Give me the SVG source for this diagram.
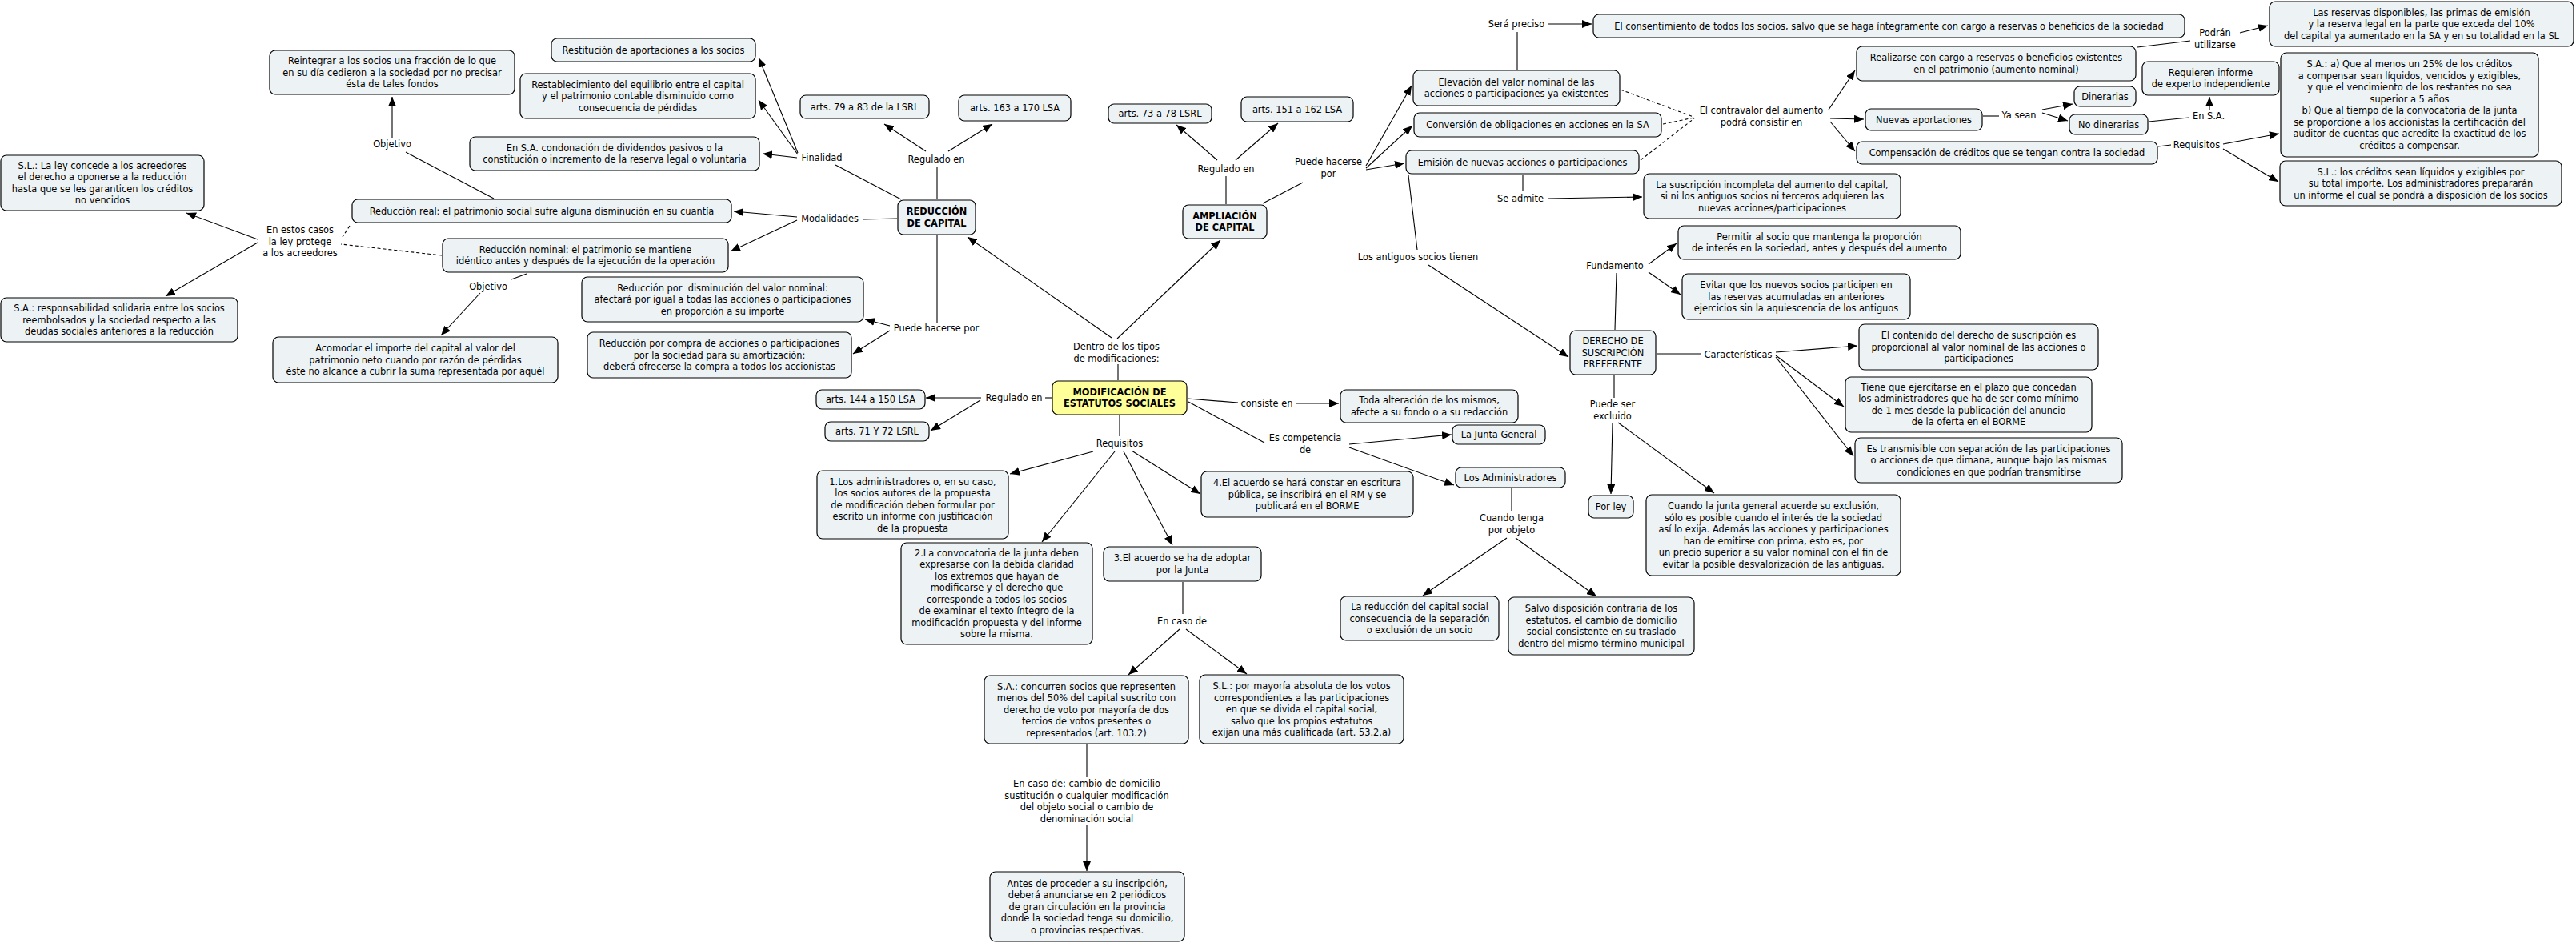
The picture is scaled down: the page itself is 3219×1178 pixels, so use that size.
<svg xmlns="http://www.w3.org/2000/svg" width="3219" height="1178" viewBox="0 0 3219 1178">
<style>
.b{fill:#edf3f5;stroke:#000;stroke-width:1.2}
.y{fill:#ffff99}
.t{font-family:"DejaVu Sans",Verdana,sans-serif;font-size:11.4px;text-anchor:middle;fill:#000}
.bo{font-weight:bold}
#conn line{stroke:#000;stroke-width:1.1;fill:none}
#conn .a{marker-end:url(#ah)}
#conn .d{stroke-dasharray:4 3}
</style>
<defs>
<marker id="ah" markerUnits="userSpaceOnUse" markerWidth="12" markerHeight="10" viewBox="0 0 12 10" refX="12" refY="5" orient="auto"><path d="M0,0 L12,5 L0,10 z" fill="#000"/></marker>
</defs>
<rect width="3219" height="1178" fill="#fff"/>
<g id="conn">
<line class="a" x1="997" y1="191" x2="948" y2="72"/>
<line class="a" x1="997" y1="193" x2="948" y2="125"/>
<line class="a" x1="996" y1="197" x2="953" y2="192"/>
<line x1="1126" y1="249" x2="1044" y2="206"/>
<line class="a" x1="1157" y1="189" x2="1105" y2="155"/>
<line class="a" x1="1185" y1="189" x2="1240" y2="155"/>
<line x1="1171" y1="249" x2="1171" y2="209"/>
<line x1="1121" y1="273" x2="1078" y2="274"/>
<line class="a" x1="996" y1="271" x2="917" y2="264"/>
<line class="a" x1="996" y1="275" x2="913" y2="314"/>
<line x1="617" y1="248" x2="507" y2="190"/>
<line class="a" x1="490" y1="172" x2="490" y2="121"/>
<line class="d" x1="437" y1="282" x2="428" y2="296"/>
<line class="d" x1="552" y1="319" x2="426" y2="305"/>
<line class="a" x1="322" y1="299" x2="233" y2="266"/>
<line class="a" x1="322" y1="303" x2="207" y2="370"/>
<line x1="658" y1="342" x2="639" y2="349"/>
<line class="a" x1="600" y1="366" x2="551" y2="419"/>
<line x1="1171" y1="294" x2="1171" y2="403"/>
<line class="a" x1="1112" y1="407" x2="1081" y2="399"/>
<line class="a" x1="1112" y1="413" x2="1066" y2="442"/>
<line class="a" x1="1389" y1="422" x2="1209" y2="296"/>
<line class="a" x1="1396" y1="423" x2="1525" y2="300"/>
<line x1="1397" y1="455" x2="1397" y2="475"/>
<line x1="1314" y1="497" x2="1306" y2="497"/>
<line class="a" x1="1226" y1="497" x2="1157" y2="497"/>
<line class="a" x1="1225" y1="500" x2="1163" y2="538"/>
<line x1="1399" y1="519" x2="1399" y2="545"/>
<line class="a" x1="1366" y1="564" x2="1262" y2="592"/>
<line class="a" x1="1393" y1="564" x2="1302" y2="677"/>
<line class="a" x1="1404" y1="564" x2="1465" y2="681"/>
<line class="a" x1="1414" y1="563" x2="1500" y2="617"/>
<line x1="1478" y1="727" x2="1478" y2="767"/>
<line class="a" x1="1474" y1="786" x2="1410" y2="843"/>
<line class="a" x1="1482" y1="786" x2="1558" y2="842"/>
<line x1="1358" y1="930" x2="1358" y2="971"/>
<line class="a" x1="1358" y1="1031" x2="1358" y2="1088"/>
<line x1="1484" y1="498" x2="1547" y2="503"/>
<line class="a" x1="1620" y1="504" x2="1673" y2="504"/>
<line x1="1485" y1="502" x2="1580" y2="553"/>
<line class="a" x1="1686" y1="555" x2="1814" y2="543"/>
<line class="a" x1="1686" y1="559" x2="1817" y2="606"/>
<line x1="1889" y1="610" x2="1889" y2="638"/>
<line class="a" x1="1883" y1="672" x2="1778" y2="744"/>
<line class="a" x1="1894" y1="672" x2="1995" y2="745"/>
<line x1="1532" y1="255" x2="1532" y2="220"/>
<line class="a" x1="1521" y1="200" x2="1470" y2="156"/>
<line class="a" x1="1544" y1="200" x2="1597" y2="154"/>
<line x1="1578" y1="254" x2="1628" y2="228"/>
<line class="a" x1="1707" y1="207" x2="1764" y2="107"/>
<line class="a" x1="1707" y1="210" x2="1765" y2="157"/>
<line class="a" x1="1707" y1="212" x2="1755" y2="204"/>
<line x1="1896" y1="87" x2="1896" y2="40"/>
<line class="a" x1="1935" y1="30" x2="1989" y2="30"/>
<line class="d" x1="2025" y1="112" x2="2116" y2="146"/>
<line class="d" x1="2078" y1="155" x2="2117" y2="147"/>
<line class="d" x1="2050" y1="200" x2="2117" y2="148"/>
<line class="a" x1="2285" y1="137" x2="2318" y2="88"/>
<line class="a" x1="2287" y1="148" x2="2329" y2="149"/>
<line class="a" x1="2287" y1="152" x2="2318" y2="189"/>
<line x1="2478" y1="145" x2="2498" y2="145"/>
<line class="a" x1="2552" y1="137" x2="2590" y2="130"/>
<line class="a" x1="2552" y1="141" x2="2584" y2="151"/>
<line x1="2685" y1="152" x2="2735" y2="147"/>
<line class="a" x1="2761" y1="138" x2="2761" y2="121"/>
<line x1="2671" y1="59" x2="2737" y2="51"/>
<line class="a" x1="2799" y1="41" x2="2834" y2="32"/>
<line x1="2697" y1="183" x2="2713" y2="181"/>
<line class="a" x1="2778" y1="180" x2="2848" y2="167"/>
<line class="a" x1="2778" y1="186" x2="2847" y2="227"/>
<line x1="1903" y1="219" x2="1903" y2="239"/>
<line class="a" x1="1935" y1="248" x2="2052" y2="246"/>
<line x1="1760" y1="219" x2="1771" y2="312"/>
<line class="a" x1="1785" y1="331" x2="1960" y2="446"/>
<line x1="2018" y1="412" x2="2020" y2="341"/>
<line class="a" x1="2060" y1="330" x2="2095" y2="304"/>
<line class="a" x1="2060" y1="340" x2="2100" y2="368"/>
<line x1="2070" y1="442" x2="2126" y2="442"/>
<line class="a" x1="2219" y1="440" x2="2321" y2="432"/>
<line class="a" x1="2219" y1="444" x2="2304" y2="508"/>
<line class="a" x1="2219" y1="446" x2="2316" y2="570"/>
<line x1="2017" y1="469" x2="2017" y2="497"/>
<line class="a" x1="2015" y1="528" x2="2013" y2="617"/>
<line class="a" x1="2022" y1="528" x2="2142" y2="616"/>
</g>
<g id="labels" class="t">
<text x="490" y="184">Objetivo</text>
<text x="1027" y="201">Finalidad</text>
<text x="1170" y="203">Regulado en</text>
<text x="1037" y="277">Modalidades</text>
<text x="375" y="291"><tspan x="375">En estos casos</tspan><tspan x="375" dy="14.5">la ley protege</tspan><tspan x="375" dy="14.5">a los acreedores</tspan></text>
<text x="610" y="362">Objetivo</text>
<text x="1170" y="414">Puede hacerse por</text>
<text x="1395" y="437"><tspan x="1395">Dentro de los tipos</tspan><tspan x="1395" dy="14.5">de modificaciones:</tspan></text>
<text x="1267" y="501">Regulado en</text>
<text x="1399" y="558">Requisitos</text>
<text x="1477" y="780">En caso de</text>
<text x="1358" y="983"><tspan x="1358">En caso de: cambio de domicilio</tspan><tspan x="1358" dy="14.5">sustitución o cualquier modificación</tspan><tspan x="1358" dy="14.5">del objeto social o cambio de</tspan><tspan x="1358" dy="14.5">denominación social</tspan></text>
<text x="1583" y="508">consiste en</text>
<text x="1631" y="551"><tspan x="1631">Es competencia</tspan><tspan x="1631" dy="15">de</tspan></text>
<text x="1889" y="651"><tspan x="1889">Cuando tenga</tspan><tspan x="1889" dy="14.5">por objeto</tspan></text>
<text x="1532" y="215">Regulado en</text>
<text x="1660" y="206"><tspan x="1660">Puede hacerse</tspan><tspan x="1660" dy="15">por</tspan></text>
<text x="1895" y="34">Será preciso</text>
<text x="2201" y="142"><tspan x="2201">El contravalor del aumento</tspan><tspan x="2201" dy="15">podrá consistir en</tspan></text>
<text x="2768" y="45"><tspan x="2768">Podrán</tspan><tspan x="2768" dy="14.5">utilizarse</tspan></text>
<text x="2523" y="148">Ya sean</text>
<text x="2760" y="149">En S.A.</text>
<text x="2745" y="185">Requisitos</text>
<text x="1900" y="252">Se admite</text>
<text x="1772" y="325">Los antiguos socios tienen</text>
<text x="2018" y="336">Fundamento</text>
<text x="2172" y="447">Características</text>
<text x="2015" y="509"><tspan x="2015">Puede ser</tspan><tspan x="2015" dy="14.5">excluido</tspan></text>
</g>
<g id="n1"><rect class="b" x="337" y="63" width="306" height="55" rx="7"/><text class="t" y="80"><tspan x="490">Reintegrar a los socios una fracción de lo que</tspan><tspan x="490" dy="14.5">en su día cedieron a la sociedad por no precisar</tspan><tspan x="490" dy="14.5">ésta de tales fondos</tspan></text></g>
<g id="n2"><rect class="b" x="689" y="48" width="255" height="29" rx="7"/><text class="t" x="816.5" y="66.5">Restitución de aportaciones a los socios</text></g>
<g id="n3"><rect class="b" x="650" y="92" width="294" height="56" rx="7"/><text class="t" y="109.5"><tspan x="797">Restablecimiento del equilibrio entre el capital</tspan><tspan x="797" dy="14.5">y el patrimonio contable disminuido como</tspan><tspan x="797" dy="14.5">consecuencia de pérdidas</tspan></text></g>
<g id="n4"><rect class="b" x="1000" y="119" width="161" height="29" rx="7"/><text class="t" x="1080.5" y="137.5">arts. 79 a 83 de la LSRL</text></g>
<g id="n5"><rect class="b" x="1198" y="119" width="140" height="32" rx="7"/><text class="t" x="1268" y="139">arts. 163 a 170 LSA</text></g>
<g id="n6"><rect class="b" x="587" y="171" width="362" height="42" rx="7"/><text class="t" y="188.75"><tspan x="768">En S.A. condonación de dividendos pasivos o la</tspan><tspan x="768" dy="14.5">constitución o incremento de la reserva legal o voluntaria</tspan></text></g>
<g id="n7"><rect class="b" x="1" y="194" width="254" height="69" rx="7"/><text class="t" y="210.75"><tspan x="128">S.L.: La ley concede a los acreedores</tspan><tspan x="128" dy="14.5">el derecho a oponerse a la reducción</tspan><tspan x="128" dy="14.5">hasta que se les garanticen los créditos</tspan><tspan x="128" dy="14.5">no vencidos</tspan></text></g>
<g id="n8"><rect class="b" x="440" y="249" width="474" height="29" rx="7"/><text class="t" x="677" y="267.5">Reducción real: el patrimonio social sufre alguna disminución en su cuantía</text></g>
<g id="n9"><rect class="b" x="1122" y="250" width="97" height="43" rx="7"/><text class="t bo" y="268.25"><tspan x="1170.5">REDUCCIÓN</tspan><tspan x="1170.5" dy="14.5">DE CAPITAL</tspan></text></g>
<g id="n10"><rect class="b" x="553" y="298" width="357" height="42" rx="7"/><text class="t" y="315.75"><tspan x="731.5">Reducción nominal: el patrimonio se mantiene</tspan><tspan x="731.5" dy="14.5">idéntico antes y después de la ejecución de la operación</tspan></text></g>
<g id="n11"><rect class="b" x="727" y="346" width="352" height="56" rx="7"/><text class="t" y="363.5"><tspan x="903">Reducción por&#160; disminución del valor nominal:</tspan><tspan x="903" dy="14.5">afectará por igual a todas las acciones o participaciones</tspan><tspan x="903" dy="14.5">en proporción a su importe</tspan></text></g>
<g id="n12"><rect class="b" x="734" y="415" width="330" height="57" rx="7"/><text class="t" y="433"><tspan x="899">Reducción por compra de acciones o participaciones</tspan><tspan x="899" dy="14.5">por la sociedad para su amortización:</tspan><tspan x="899" dy="14.5">deberá ofrecerse la compra a todos los accionistas</tspan></text></g>
<g id="n13"><rect class="b" x="1" y="372" width="296" height="55" rx="7"/><text class="t" y="389"><tspan x="149">S.A.: responsabilidad solidaria entre los socios</tspan><tspan x="149" dy="14.5">reembolsados y la sociedad respecto a las</tspan><tspan x="149" dy="14.5">deudas sociales anteriores a la reducción</tspan></text></g>
<g id="n14"><rect class="b" x="341" y="421" width="356" height="57" rx="7"/><text class="t" y="439"><tspan x="519">Acomodar el importe del capital al valor del</tspan><tspan x="519" dy="14.5">patrimonio neto cuando por razón de pérdidas</tspan><tspan x="519" dy="14.5">éste no alcance a cubrir la suma representada por aquél</tspan></text></g>
<g id="n15"><rect class="b y" x="1315" y="476" width="168" height="42" rx="7"/><text class="t bo" y="493.75"><tspan x="1399">MODIFICACIÓN DE</tspan><tspan x="1399" dy="14.5">ESTATUTOS SOCIALES</tspan></text></g>
<g id="n16"><rect class="b" x="1020" y="487" width="136" height="24" rx="7"/><text class="t" x="1088" y="503">arts. 144 a 150 LSA</text></g>
<g id="n17"><rect class="b" x="1031" y="527" width="130" height="24" rx="7"/><text class="t" x="1096" y="543">arts. 71 Y 72 LSRL</text></g>
<g id="n18"><rect class="b" x="1021" y="588" width="239" height="85" rx="7"/><text class="t" y="605.5"><tspan x="1140.5">1.Los administradores o, en su caso,</tspan><tspan x="1140.5" dy="14.5">los socios autores de la propuesta</tspan><tspan x="1140.5" dy="14.5">de modificación deben formular por</tspan><tspan x="1140.5" dy="14.5">escrito un informe con justificación</tspan><tspan x="1140.5" dy="14.5">de la propuesta</tspan></text></g>
<g id="n19"><rect class="b" x="1126" y="678" width="239" height="127" rx="7"/><text class="t" y="694.75"><tspan x="1245.5">2.La convocatoria de la junta deben</tspan><tspan x="1245.5" dy="14.5">expresarse con la debida claridad</tspan><tspan x="1245.5" dy="14.5">los extremos que hayan de</tspan><tspan x="1245.5" dy="14.5">modificarse y el derecho que</tspan><tspan x="1245.5" dy="14.5">corresponde a todos los socios</tspan><tspan x="1245.5" dy="14.5">de examinar el texto íntegro de la</tspan><tspan x="1245.5" dy="14.5">modificación propuesta y del informe</tspan><tspan x="1245.5" dy="14.5">sobre la misma.</tspan></text></g>
<g id="n20"><rect class="b" x="1379" y="683" width="197" height="43" rx="7"/><text class="t" y="701.25"><tspan x="1477.5">3.El acuerdo se ha de adoptar</tspan><tspan x="1477.5" dy="14.5">por la Junta</tspan></text></g>
<g id="n21"><rect class="b" x="1230" y="844" width="255" height="85" rx="7"/><text class="t" y="861.5"><tspan x="1357.5">S.A.: concurren socios que representen</tspan><tspan x="1357.5" dy="14.5">menos del 50% del capital suscrito con</tspan><tspan x="1357.5" dy="14.5">derecho de voto por mayoría de dos</tspan><tspan x="1357.5" dy="14.5">tercios de votos presentes o</tspan><tspan x="1357.5" dy="14.5">representados (art. 103.2)</tspan></text></g>
<g id="n22"><rect class="b" x="1499" y="843" width="255" height="86" rx="7"/><text class="t" y="861"><tspan x="1626.5">S.L.: por mayoría absoluta de los votos</tspan><tspan x="1626.5" dy="14.5">correspondientes a las participaciones</tspan><tspan x="1626.5" dy="14.5">en que se divida el capital social,</tspan><tspan x="1626.5" dy="14.5">salvo que los propios estatutos</tspan><tspan x="1626.5" dy="14.5">exijan una más cualificada (art. 53.2.a)</tspan></text></g>
<g id="n23"><rect class="b" x="1237" y="1089" width="243" height="87" rx="7"/><text class="t" y="1107.5"><tspan x="1358.5">Antes de proceder a su inscripción,</tspan><tspan x="1358.5" dy="14.5">deberá anunciarse en 2 periódicos</tspan><tspan x="1358.5" dy="14.5">de gran circulación en la provincia</tspan><tspan x="1358.5" dy="14.5">donde la sociedad tenga su domicilio,</tspan><tspan x="1358.5" dy="14.5">o provincias respectivas.</tspan></text></g>
<g id="n24"><rect class="b" x="1501" y="589" width="265" height="57" rx="7"/><text class="t" y="607"><tspan x="1633.5">4.El acuerdo se hará constar en escritura</tspan><tspan x="1633.5" dy="14.5">pública, se inscribirá en el RM y se</tspan><tspan x="1633.5" dy="14.5">publicará en el BORME</tspan></text></g>
<g id="n25"><rect class="b" x="1675" y="487" width="222" height="41" rx="7"/><text class="t" y="504.25"><tspan x="1786">Toda alteración de los mismos,</tspan><tspan x="1786" dy="14.5">afecte a su fondo o a su redacción</tspan></text></g>
<g id="n26"><rect class="b" x="1815" y="531" width="116" height="24" rx="7"/><text class="t" x="1873" y="547">La Junta General</text></g>
<g id="n27"><rect class="b" x="1819" y="584" width="137" height="25" rx="7"/><text class="t" x="1887.5" y="600.5">Los Administradores</text></g>
<g id="n28"><rect class="b" x="1675" y="745" width="198" height="55" rx="7"/><text class="t" y="762"><tspan x="1774">La reducción del capital social</tspan><tspan x="1774" dy="14.5">consecuencia de la separación</tspan><tspan x="1774" dy="14.5">o exclusión de un socio</tspan></text></g>
<g id="n29"><rect class="b" x="1885" y="746" width="232" height="72" rx="7"/><text class="t" y="764.25"><tspan x="2001">Salvo disposición contraria de los</tspan><tspan x="2001" dy="14.5">estatutos, el cambio de domicilio</tspan><tspan x="2001" dy="14.5">social consistente en su traslado</tspan><tspan x="2001" dy="14.5">dentro del mismo término municipal</tspan></text></g>
<g id="n30"><rect class="b" x="1478" y="256" width="105" height="42" rx="7"/><text class="t bo" y="273.75"><tspan x="1530.5">AMPLIACIÓN</tspan><tspan x="1530.5" dy="14.5">DE CAPITAL</tspan></text></g>
<g id="n31"><rect class="b" x="1385" y="130" width="129" height="24" rx="7"/><text class="t" x="1449.5" y="146">arts. 73 a 78 LSRL</text></g>
<g id="n32"><rect class="b" x="1551" y="121" width="140" height="31" rx="7"/><text class="t" x="1621" y="140.5">arts. 151 a 162 LSA</text></g>
<g id="n33"><rect class="b" x="1766" y="88" width="258" height="44" rx="7"/><text class="t" y="106.75"><tspan x="1895">Elevación del valor nominal de las</tspan><tspan x="1895" dy="14.5">acciones o participaciones ya existentes</tspan></text></g>
<g id="n34"><rect class="b" x="1767" y="141" width="309" height="30" rx="7"/><text class="t" x="1921.5" y="160">Conversión de obligaciones en acciones en la SA</text></g>
<g id="n35"><rect class="b" x="1757" y="188" width="291" height="29" rx="7"/><text class="t" x="1902.5" y="206.5">Emisión de nuevas acciones o participaciones</text></g>
<g id="n36"><rect class="b" x="1991" y="18" width="739" height="29" rx="7"/><text class="t" x="2360.5" y="36.5">El consentimiento de todos los socios, salvo que se haga íntegramente con cargo a reservas o beneficios de la sociedad</text></g>
<g id="n37"><rect class="b" x="2320" y="58" width="349" height="43" rx="7"/><text class="t" y="76.25"><tspan x="2494.5">Realizarse con cargo a reservas o beneficios existentes</tspan><tspan x="2494.5" dy="14.5">en el patrimonio (aumento nominal)</tspan></text></g>
<g id="n38"><rect class="b" x="2836" y="2" width="380" height="56" rx="7"/><text class="t" y="19.5"><tspan x="3026">Las reservas disponibles, las primas de emisión</tspan><tspan x="3026" dy="14.5">y la reserva legal en la parte que exceda del 10%</tspan><tspan x="3026" dy="14.5">del capital ya aumentado en la SA y en su totalidad en la SL</tspan></text></g>
<g id="n39"><rect class="b" x="2677" y="77" width="171" height="42" rx="7"/><text class="t" y="94.75"><tspan x="2762.5">Requieren informe</tspan><tspan x="2762.5" dy="14.5">de experto independiente</tspan></text></g>
<g id="n40"><rect class="b" x="2592" y="108" width="77" height="25" rx="7"/><text class="t" x="2630.5" y="124.5">Dinerarias</text></g>
<g id="n41"><rect class="b" x="2586" y="143" width="98" height="25" rx="7"/><text class="t" x="2635" y="159.5">No dinerarias</text></g>
<g id="n42"><rect class="b" x="2331" y="136" width="146" height="27" rx="7"/><text class="t" x="2404" y="153.5">Nuevas aportaciones</text></g>
<g id="n43"><rect class="b" x="2320" y="177" width="376" height="28" rx="7"/><text class="t" x="2508" y="195">Compensación de créditos que se tengan contra la sociedad</text></g>
<g id="n44"><rect class="b" x="2850" y="66" width="322" height="130" rx="7"/><text class="t" y="84.25"><tspan x="3011">S.A.: a) Que al menos un 25% de los créditos</tspan><tspan x="3011" dy="14.5">a compensar sean líquidos, vencidos y exigibles,</tspan><tspan x="3011" dy="14.5">y que el vencimiento de los restantes no sea</tspan><tspan x="3011" dy="14.5">superior a 5 años</tspan><tspan x="3011" dy="14.5">b) Que al tiempo de la convocatoria de la junta</tspan><tspan x="3011" dy="14.5">se proporcione a los accionistas la certificación del</tspan><tspan x="3011" dy="14.5">auditor de cuentas que acredite la exactitud de los</tspan><tspan x="3011" dy="14.5">créditos a compensar.</tspan></text></g>
<g id="n45"><rect class="b" x="2849" y="201" width="352" height="56" rx="7"/><text class="t" y="218.5"><tspan x="3025">S.L.: los créditos sean líquidos y exigibles por</tspan><tspan x="3025" dy="14.5">su total importe. Los administradores prepararán</tspan><tspan x="3025" dy="14.5">un informe el cual se pondrá a disposición de los socios</tspan></text></g>
<g id="n46"><rect class="b" x="2054" y="217" width="321" height="56" rx="7"/><text class="t" y="234.5"><tspan x="2214.5">La suscripción incompleta del aumento del capital,</tspan><tspan x="2214.5" dy="14.5">si ni los antiguos socios ni terceros adquieren las</tspan><tspan x="2214.5" dy="14.5">nuevas acciones/participaciones</tspan></text></g>
<g id="n47"><rect class="b" x="2097" y="282" width="353" height="42" rx="7"/><text class="t" y="299.75"><tspan x="2273.5">Permitir al socio que mantenga la proporción</tspan><tspan x="2273.5" dy="14.5">de interés en la sociedad, antes y después del aumento</tspan></text></g>
<g id="n48"><rect class="b" x="2102" y="342" width="285" height="57" rx="7"/><text class="t" y="360"><tspan x="2244.5">Evitar que los nuevos socios participen en</tspan><tspan x="2244.5" dy="14.5">las reservas acumuladas en anteriores</tspan><tspan x="2244.5" dy="14.5">ejercicios sin la aquiescencia de los antiguos</tspan></text></g>
<g id="n49"><rect class="b" x="1962" y="413" width="107" height="55" rx="7"/><text class="t" y="430"><tspan x="2015.5">DERECHO DE</tspan><tspan x="2015.5" dy="14.5">SUSCRIPCIÓN</tspan><tspan x="2015.5" dy="14.5">PREFERENTE</tspan></text></g>
<g id="n50"><rect class="b" x="2323" y="405" width="299" height="57" rx="7"/><text class="t" y="423"><tspan x="2472.5">El contenido del derecho de suscripción es</tspan><tspan x="2472.5" dy="14.5">proporcional al valor nominal de las acciones o</tspan><tspan x="2472.5" dy="14.5">participaciones</tspan></text></g>
<g id="n51"><rect class="b" x="2306" y="471" width="308" height="69" rx="7"/><text class="t" y="487.75"><tspan x="2460">Tiene que ejercitarse en el plazo que concedan</tspan><tspan x="2460" dy="14.5">los administradores que ha de ser como mínimo</tspan><tspan x="2460" dy="14.5">de 1 mes desde la publicación del anuncio</tspan><tspan x="2460" dy="14.5">de la oferta en el BORME</tspan></text></g>
<g id="n52"><rect class="b" x="2318" y="547" width="334" height="56" rx="7"/><text class="t" y="564.5"><tspan x="2485">Es transmisible con separación de las participaciones</tspan><tspan x="2485" dy="14.5">o acciones de que dimana, aunque bajo las mismas</tspan><tspan x="2485" dy="14.5">condiciones en que podrían transmitirse</tspan></text></g>
<g id="n53"><rect class="b" x="1985" y="619" width="56" height="28" rx="7"/><text class="t" x="2013" y="637">Por ley</text></g>
<g id="n54"><rect class="b" x="2057" y="618" width="318" height="101" rx="7"/><text class="t" y="636.25"><tspan x="2216">Cuando la junta general acuerde su exclusión,</tspan><tspan x="2216" dy="14.5">sólo es posible cuando el interés de la sociedad</tspan><tspan x="2216" dy="14.5">así lo exija. Además las acciones y participaciones</tspan><tspan x="2216" dy="14.5">han de emitirse con prima, esto es, por</tspan><tspan x="2216" dy="14.5">un precio superior a su valor nominal con el fin de</tspan><tspan x="2216" dy="14.5">evitar la posible desvalorización de las antiguas.</tspan></text></g>
</svg>
